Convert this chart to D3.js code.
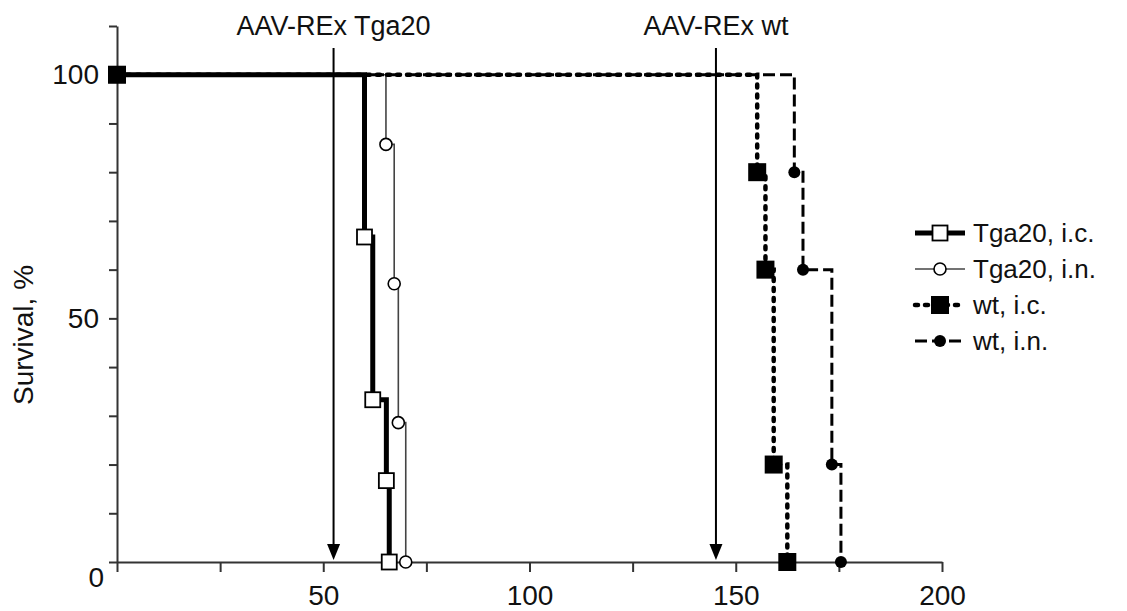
<!DOCTYPE html>
<html>
<head>
<meta charset="utf-8">
<script src="https://cdn.jsdelivr.net/npm/d3@7"></script>
<style>
  html, body { margin: 0; padding: 0; background: #fff; }
  svg { display: block; font-family: 'Liberation Sans', Arial, sans-serif; }
  .axis path, .axis line { stroke: #333; stroke-width: 2; }
  .axis text { font-size: 28px; fill: #111; }
</style>
</head>
<body>
<svg id="chart" width="1127" height="611"></svg>
<script>
// Kaplan-Meier steps (days, % survival)
const seriesNames = ['Tga20, i.c.', 'Tga20, i.n.', 'wt, i.c.', 'wt, i.n.']
const tga20IcDays = [0, 60, 62, 65.3, 66]
const tga20IcSurv = [100, 66.7, 33.3, 16.7, 0]
const tga20InDays = [0, 65.2, 67.2, 68.2, 70]
const tga20InSurv = [100, 85.7, 57.1, 28.6, 0]
const wtIcDays = [0, 155.2, 157.2, 159.2, 162.5]
const wtIcSurv = [100, 80, 60, 20, 0]
const wtInDays = [0, 164.2, 166.3, 173.3, 175.5]
const wtInSurv = [100, 80, 60, 20, 0]

const xTicks = [0, 25, 50, 75, 100, 125, 150, 175, 200]
const xTickLabels = ['', '', '50', '', '100', '', '150', '', '200']
const yTicks = [0, 10, 20, 30, 40, 50, 60, 70, 80, 90, 100, 110]
const yTickLabels = ['0', '', '', '', '', '50', '', '', '', '', '100', '']

const arrowDays = [52.5, 145.2]
const arrowLabels = ['AAV-REx Tga20', 'AAV-REx wt']
const yTitle = 'Survival, %'

const svg = d3.select('#chart')

const x = d3.scaleLinear().domain([0, 200]).range([117, 942])
const y = d3.scaleLinear().domain([0, 110]).range([562, 26])

const styles = [
	{ width: 5, dash: null, cap: 'butt', color: '#000', shape: 'square', size: 15, fill: '#fff' },
	{ width: 1.6, dash: null, cap: 'butt', color: '#444', shape: 'circle', size: 12, fill: '#fff' },
	{ width: 4.5, dash: '3,7', cap: 'round', color: '#000', shape: 'square', size: 18, fill: '#000' },
	{ width: 3, dash: '12,5', cap: 'butt', color: '#000', shape: 'circle', size: 12, fill: '#000' }
]

const series = [
	[tga20IcDays, tga20IcSurv],
	[tga20InDays, tga20InSurv],
	[wtIcDays, wtIcSurv],
	[wtInDays, wtInSurv]
].map((s, i) => ({
	name: seriesNames[i],
	style: styles[i],
	points: s[0].map((d, j) => ({ t: d, s: s[1][j] }))
}))

// axes
svg.append('g')
	.attr('class', 'axis')
	.attr('transform', 'translate(0,' + y(0) + ')')
	.call(d3.axisBottom(x).tickValues(xTicks).tickSize(10).tickSizeOuter(0).tickPadding(13)
		.tickFormat((d, i) => xTickLabels[i]))

const yAxis = svg.append('g')
	.attr('class', 'axis')
	.attr('transform', 'translate(' + x(0) + ',0)')
	.call(d3.axisLeft(y).tickValues(yTicks).tickSize(8).tickSizeOuter(0).tickPadding(10)
		.tickFormat((d, i) => yTickLabels[i]))

// the "0" sits a little below the corner
yAxis.selectAll('.tick text')
	.filter(d => d === 0)
	.attr('x', -13)
	.attr('y', 16)

svg.append('text')
	.attr('transform', 'translate(33,335) rotate(-90)')
	.attr('text-anchor', 'middle')
	.style('font-size', '28px')
	.attr('fill', '#111')
	.text(yTitle)

// arrows for AAV-REx injection
const arrows = svg.selectAll('.arrow')
	.data(arrowDays)
	.enter()
	.append('g')
	.attr('class', 'arrow')
	.attr('transform', d => 'translate(' + x(d) + ',0)')

arrows.append('line')
	.attr('x1', 0).attr('x2', 0)
	.attr('y1', 48).attr('y2', 548)
	.attr('stroke', '#000')
	.attr('stroke-width', 2)

arrows.append('path')
	.attr('d', 'M-6.5,544 L6.5,544 L0,560 Z')
	.attr('fill', '#000')

arrows.append('text')
	.attr('y', 35)
	.attr('text-anchor', 'middle')
	.style('font-size', '27px')
	.attr('fill', '#111')
	.text((d, i) => arrowLabels[i])

// survival curves
const line = d3.line()
	.x(d => x(d.t))
	.y(d => y(d.s))
	.curve(d3.curveStepAfter)

const drawMarker = (g, st) => {
	if (st.shape === 'square') {
		g.append('rect')
			.attr('x', -st.size / 2).attr('y', -st.size / 2)
			.attr('width', st.size).attr('height', st.size)
			.attr('fill', st.fill)
			.attr('stroke', '#000')
			.attr('stroke-width', st.fill === '#000' ? 0 : 1.8)
	} else {
		g.append('circle')
			.attr('r', st.size / 2)
			.attr('fill', st.fill)
			.attr('stroke', '#000')
			.attr('stroke-width', st.fill === '#000' ? 0 : 1.6)
	}
}

const order = [1, 0, 3, 2]
order.forEach(i => {
	const sr = series[i]
	svg.append('path')
		.datum(sr.points)
		.attr('d', line)
		.attr('fill', 'none')
		.attr('stroke', sr.style.color)
		.attr('stroke-width', sr.style.width)
		.attr('stroke-linecap', sr.style.cap)
		.attr('stroke-dasharray', sr.style.dash)
})

order.forEach(i => {
	const sr = series[i]
	sr.points.forEach(p => {
		const g = svg.append('g').attr('transform', 'translate(' + x(p.t) + ',' + y(p.s) + ')')
		drawMarker(g, sr.style)
	})
})

// legend
const legend = svg.selectAll('.legend')
	.data(series)
	.enter()
	.append('g')
	.attr('class', 'legend')
	.attr('transform', (d, i) => 'translate(915,' + (233 + i * 36) + ')')

legend.append('line')
	.attr('x1', 0).attr('x2', 50)
	.attr('stroke', d => d.style.color)
	.attr('stroke-width', d => d.style.width)
	.attr('stroke-linecap', d => d.style.cap)
	.attr('stroke-dasharray', d => d.style.dash)

legend.each(function(d) {
	const g = d3.select(this).append('g').attr('transform', 'translate(25,0)')
	drawMarker(g, d.style)
})

legend.append('text')
	.attr('x', 58)
	.attr('dy', '0.35em')
	.style('font-size', '26px')
	.attr('fill', '#111')
	.text(d => d.name)
</script>
</body>
</html>
